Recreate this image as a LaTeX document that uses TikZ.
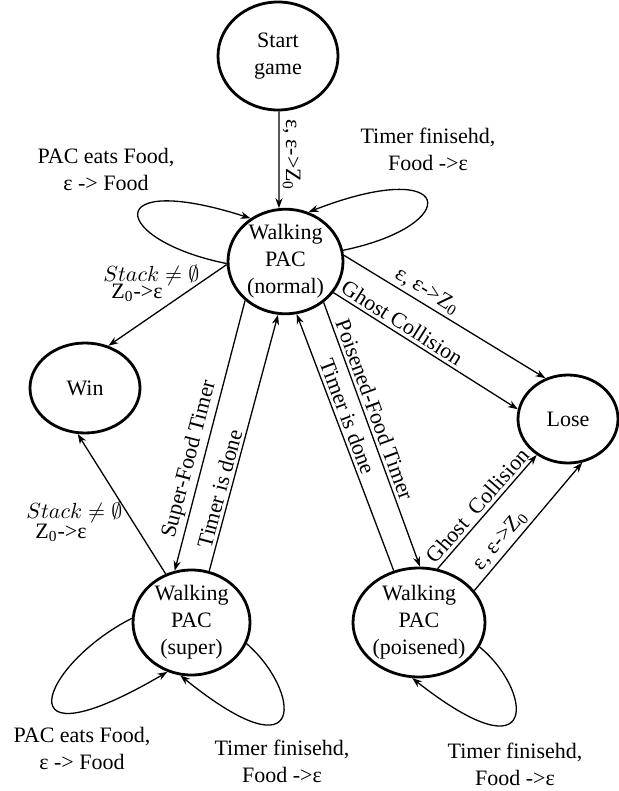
\documentclass[tikz,border=0pt]{standalone}
\usepackage{fontspec}
\setmainfont{Liberation Serif}
\usetikzlibrary{shapes.geometric,arrows.meta}
\tikzset{
  state/.style={ellipse, draw, line width=1.4pt, inner sep=0pt, align=center,
    font=\fontsize{11}{13.5}\selectfont},
  tr/.style={line width=0.65pt, -{Stealth[length=5pt,width=3.6pt]}},
  lbl/.style={font=\fontsize{11}{13.5}\selectfont, inner sep=1.5pt, align=center},
}
\begin{document}
\begin{tikzpicture}[x=0.5pt,y=-0.5pt]
\useasboundingbox (0,0) rectangle (618,791);
% states
\node[state, minimum width=60pt, minimum height=54pt] (start) at (278,56) {Start\\game};
\node[state, minimum width=57.5pt, minimum height=51.5pt] (normal) at (285.5,261.5) {Walking\\PAC\\(normal)};
\node[state, minimum width=55pt, minimum height=45pt] (win) at (85,388) {Win};
\node[state, minimum width=50pt, minimum height=44pt] (lose) at (568,419) {Lose};
\node[state, minimum width=58.5pt, minimum height=52.5pt] (super) at (191.5,622.5) {Walking\\PAC\\(super)};
\node[state, minimum width=66pt, minimum height=54.5pt] (pois) at (419,622.5) {Walking\\PAC\\(poisened)};

% start -> normal
\draw[tr] (start.-89) -- node[lbl, pos=.45, rotate=-90, anchor=south] (l1) {ε, ε->Z\textsubscript{0}} (normal.97);

% normal self loops
\draw[tr] (normal.182) .. controls (110,240) and (100,170) .. (normal.129);
\node[lbl] (l2) at (106,169) {PAC eats Food,\\ε -> Food};
\draw[tr] (normal.11) .. controls (465,225) and (455,155) .. (normal.65);
\node[lbl] (l3) at (428,149) {Timer finisehd,\\Food ->ε};

% normal -> win
\draw[tr] (normal.183) -- (win.61);
\node[lbl, anchor=base west] (l4a) at (100,281) {$Stack \neq \emptyset$};
\node[lbl, anchor=base west] (l4b) at (108,298) {Z\textsubscript{0}->ε};

% normal -> lose
\draw[tr] (normal.6) -- node[lbl, sloped, above, pos=.38] (l5) {ε, ε->Z\textsubscript{0}} (lose.119);
\draw[tr] (normal.-33) -- node[lbl, sloped, above, pos=.34] (l6) {Ghost Collision} (lose.169);

% normal <-> super
\draw[tr] (normal.224) -- node[lbl, sloped, above, pos=.6] (l7) {Super-Food Timer} (super.108);
\draw[tr] (super.71) -- node[lbl, sloped, above, pos=.31] (l8) {Timer is done} (normal.262);

% normal <-> poisened
\draw[tr] (pois.116) -- node[lbl, sloped, above, pos=.585] (l9) {Timer is done} (normal.282);
\draw[tr] (normal.-47) -- node[lbl, sloped, above, pos=.42] (l10) {Poisened-Food Timer} (pois.89);

% poisened -> lose
\draw[tr] (pois.71) -- node[lbl, sloped, above, pos=.49] (l11) {Ghost~ Collision} (lose.229);
\draw[tr] (pois.30) -- node[lbl, sloped, above, pos=.33] (l12) {ε, ε->Z\textsubscript{0}} (lose.288);

% super -> win
\draw[tr] (super.118) -- (win.261);
\node[lbl, anchor=base west] (l13a) at (23,518) {$Stack \neq \emptyset$};
\node[lbl, anchor=base west] (l13b) at (32,538) {Z\textsubscript{0}->ε};

% super self loops
\draw[tr] (super.176) .. controls (40,665) and (0,770) .. (super.244);
\node[lbl] (l14) at (82,748) {PAC eats Food,\\ε -> Food};
\draw[tr] (super.-21) .. controls (300,690) and (310,780) .. (super.258);
\node[lbl] (l15) at (282,761) {Timer finisehd,\\Food ->ε};

% poisened self loop
\draw[tr] (pois.-22) .. controls (532,690) and (542,780) .. (pois.263);
\node[lbl] (l16) at (515,764) {Timer finisehd,\\Food ->ε};
\end{tikzpicture}
\end{document}
